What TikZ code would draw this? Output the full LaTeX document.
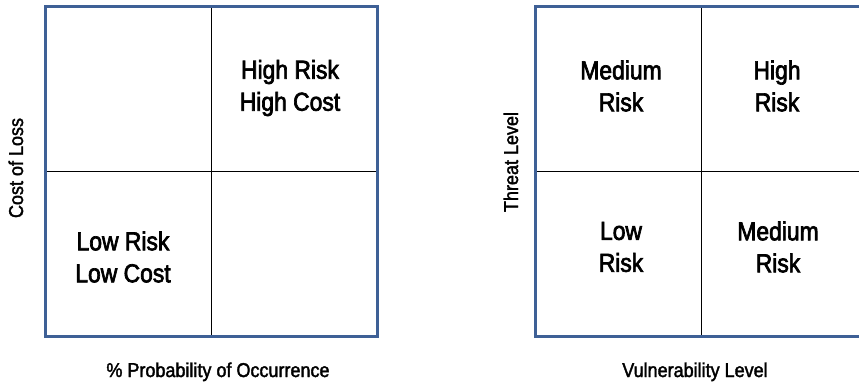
\documentclass[tikz,border=0pt]{standalone}
\usepackage{fontspec}
\setmainfont{Liberation Sans}
% narrow, slightly heavier face for all labels
\newfontfamily\labelfont{Liberation Sans}[FakeStretch=0.88,FakeBold=2.6]
\newfontfamily\axisfont{Liberation Sans}[FakeStretch=0.9,FakeBold=1.8]
\definecolor{frameblue}{RGB}{62,96,150}
\begin{document}
\begin{tikzpicture}[x=1pt,y=-1pt,
  frame/.style={draw=frameblue,line width=3pt},
  divider/.style={draw=black,line width=1pt},
  grid/.style={minimum width=332pt,minimum height=330pt,inner sep=0pt,outer sep=0pt,anchor=north west},
  cell/.style={align=center,font=\labelfont\fontsize{26}{32}\selectfont,inner sep=0pt},
  axis/.style={font=\axisfont\fontsize{20}{22}\selectfont,inner sep=0pt,anchor=base}]
\useasboundingbox (0,0) rectangle (859,384);

% cost / probability matrix
\node[grid] (lbox) at (45,6) {};
\draw[divider] (lbox.north) -- (lbox.south);
\draw[divider] (lbox.west) -- (lbox.east);
\draw[frame] (lbox.north west) rectangle (lbox.south east);
\node[cell] (lhh) at (290,88) {High Risk\\High Cost};
\node[cell] (lll) at (123,257) {Low Risk\\Low Cost};
\node[axis] (lx) at (218,377) {\% Probability of Occurrence};
\node[axis,rotate=90] (ly) at (23,168) {Cost of Loss};

% threat / vulnerability matrix
\node[grid] (rbox) at (535,6) {};
\draw[divider] (rbox.north) -- (rbox.south);
\draw[divider] (rbox.west) -- (rbox.east);
\draw[frame] (rbox.north west) rectangle (rbox.south east);
\node[cell] (rmh) at (621,86) {Medium\\Risk};
\node[cell] (rhh) at (777,86) {High\\Risk};
\node[cell] (rll) at (621,247) {Low\\Risk};
\node[cell] (rmr) at (778,247) {Medium\\Risk};
\node[axis] (rx) at (695,377) {Vulnerability Level};
\node[axis,rotate=90] (ry) at (518,162) {Threat Level};
\end{tikzpicture}
\end{document}
